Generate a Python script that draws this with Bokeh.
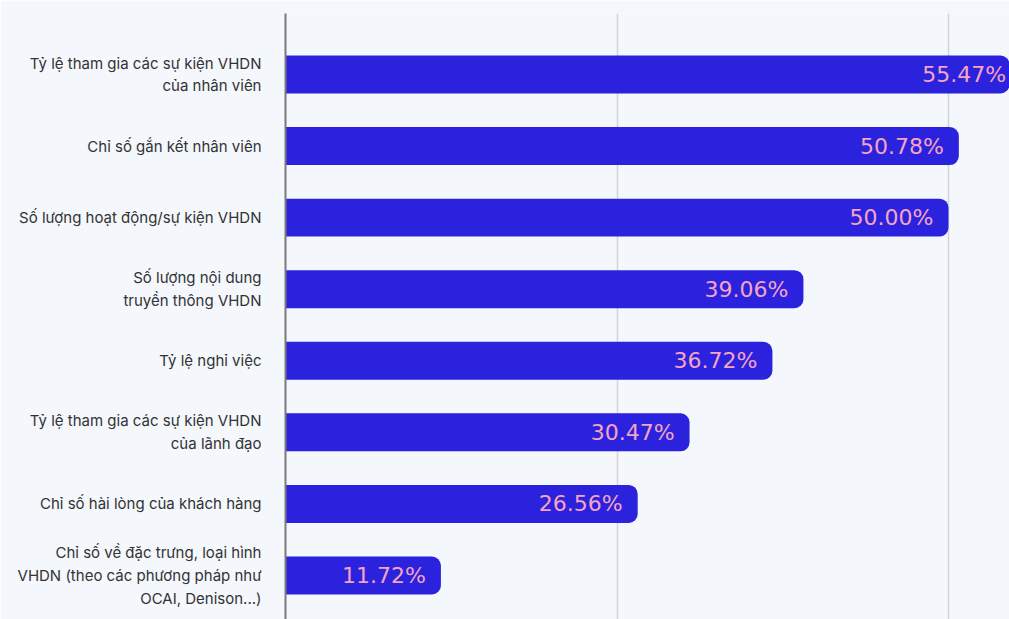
from bokeh.plotting import figure
from bokeh.models import Range1d, FixedTicker, ColumnDataSource
from bokeh.core.properties import value
from bokeh.embed import file_html
from bokeh.resources import INLINE

categories = [
    "Tỷ lệ tham gia các sự kiện VHDN\ncủa nhân viên",
    "Chỉ số gắn kết nhân viên",
    "Số lượng hoạt động/sự kiện VHDN",
    "Số lượng nội dung\ntruyền thông VHDN",
    "Tỷ lệ nghỉ việc",
    "Tỷ lệ tham gia các sự kiện VHDN\ncủa lãnh đạo",
    "Chỉ số hài lòng của khách hàng",
    "Chỉ số về đặc trưng, loại hình\nVHDN (theo các phương pháp như\nOCAI, Denison...)",
]
values = [55.47, 50.78, 50.00, 39.06, 36.72, 30.47, 26.56, 11.72]
grid_ticks = [0, 25, 50]

positions = list(range(len(categories)))
labels = [f"{v:.2f}%" for v in values]
src = ColumnDataSource(dict(y=positions, v=values, lab=labels))

BG = "#f4f7fc"
p = figure(width=1009, height=619, output_backend="svg", toolbar_location=None,
           x_range=Range1d(0, 54.6), y_range=Range1d(7.615, -0.852),
           background_fill_color=BG, border_fill_color=BG, outline_line_color=None,
           min_border_left=285, min_border_right=0, min_border_top=13, min_border_bottom=0)

p.hbar(y="y", right="v", left=0, height=0.53, source=src, color="#2a22dc",
       line_color=None, border_radius=(0, 9, 9, 0))
p.text(x="v", y="y", text="lab", source=src, x_offset=-15, text_align="right",
       text_baseline="middle", text_color="#f6a3c6", text_font_size="22px",
       text_font=value("DejaVu Sans"))

p.xaxis.visible = False
p.xgrid.ticker = FixedTicker(ticks=grid_ticks)
p.xgrid.grid_line_color = "#d2d4d8"
p.xgrid.grid_line_width = 1.5
p.ygrid.grid_line_color = None

p.yaxis.ticker = FixedTicker(ticks=positions)
p.yaxis.major_label_overrides = {i: c for i, c in enumerate(categories)}
p.yaxis.major_tick_line_color = None
p.yaxis.minor_tick_line_color = None
p.yaxis.axis_line_color = "#7a7a7a"
p.yaxis.axis_line_width = 2
p.yaxis.major_label_standoff = 18
p.yaxis.major_label_text_font = "Inter"
p.yaxis.major_label_text_font_size = "15px"
p.yaxis.major_label_text_color = "#333333"
p.yaxis.major_label_text_align = "right"

open("out.html", "w").write(file_html(p, INLINE))
